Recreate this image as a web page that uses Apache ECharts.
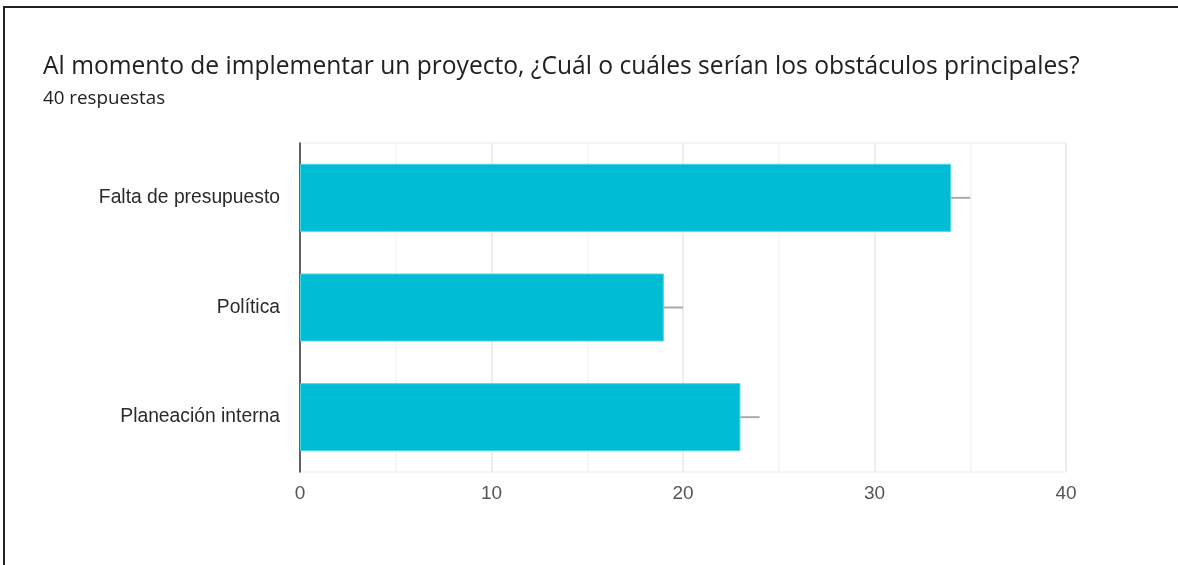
<!DOCTYPE html>
<html>
<head>
<meta charset="utf-8">
<script src="https://cdn.jsdelivr.net/npm/echarts@6/dist/echarts.min.js"></script>
<style>
  html, body { margin: 0; padding: 0; background: #fff; overflow: hidden; }
  #frame { position: absolute; left: 3px; top: 6px; width: 1300px; height: 700px; border: 2px solid #222; box-sizing: border-box; }
  #chart { position: absolute; left: 0; top: 0; width: 1178px; height: 565px; }
</style>
</head>
<body>
<div id="frame"></div>
<div id="chart"></div>
<script>
var categories = ['Falta de presupuesto', 'Política', 'Planeación interna'];
var counts = [34, 19, 23];
var whiskerEnds = [35, 20, 24];
var xTicks = [0, 10, 20, 30, 40];

var chartDom = document.getElementById('chart');
var myChart = echarts.init(chartDom);
var option;

option = {
    animation: false,
    title: [
        {
            text: 'Al momento de implementar un proyecto, ¿Cuál o cuáles serían los obstáculos principales?',
            left: 43,
            top: 54,
            padding: 0,
            textStyle: { fontFamily: 'Open Sans', fontSize: 24.6, fontWeight: 'normal', color: '#202124' }
        },
        {
            text: '40 respuestas',
            left: 43,
            top: 89,
            padding: 0,
            textStyle: { fontFamily: 'Open Sans', fontSize: 18.8, fontWeight: 'normal', color: '#202124' }
        }
    ],
    grid: {
        left: 300,
        right: 112,
        top: 143,
        bottom: 93,
        show: true,
        borderColor: '#ebebeb',
        borderWidth: 1
    },
    xAxis: {
        type: 'value',
        min: xTicks[0],
        max: xTicks[xTicks.length - 1],
        interval: 10,
        axisLine: { show: false },
        axisTick: { show: false },
        axisLabel: {
            margin: 12,
            fontFamily: 'Liberation Sans',
            fontSize: 19,
            color: '#555'
        },
        splitLine: { lineStyle: { color: '#e8e8e8', width: 1.5 } },
        minorTick: { show: false, splitNumber: 2 },
        minorSplitLine: { show: true, lineStyle: { color: '#f3f3f3', width: 1.5 } }
    },
    yAxis: {
        type: 'category',
        inverse: true,
        data: categories,
        axisLine: { show: true, lineStyle: { color: '#333', width: 1.5 } },
        axisTick: { show: false },
        axisLabel: {
            margin: 20,
            fontFamily: 'Liberation Sans',
            fontSize: 19.3,
            color: '#2a2a2a'
        }
    },
    series: [
        {
            name: 'Respuestas',
            type: 'bar',
            barWidth: '62%',
            data: counts,
            z: 3,
            itemStyle: {
                color: '#00bcd4',
                borderColor: '#4fd3e3',
                borderWidth: 1
            }
        },
        {
            name: 'whisker',
            type: 'custom',
            z: 2,
            data: counts.map(function (v, i) { return [v, whiskerEnds[i], i]; }),
            encode: { x: [0, 1], y: 2 },
            renderItem: function (params, api) {
                var start = api.coord([api.value(0), api.value(2)]);
                var end = api.coord([api.value(1), api.value(2)]);
                return {
                    type: 'line',
                    shape: { x1: start[0], y1: start[1], x2: end[0], y2: end[1] },
                    style: { stroke: '#aaaaaa', lineWidth: 2 }
                };
            }
        }
    ]
};

option && myChart.setOption(option);
</script>
</body>
</html>
